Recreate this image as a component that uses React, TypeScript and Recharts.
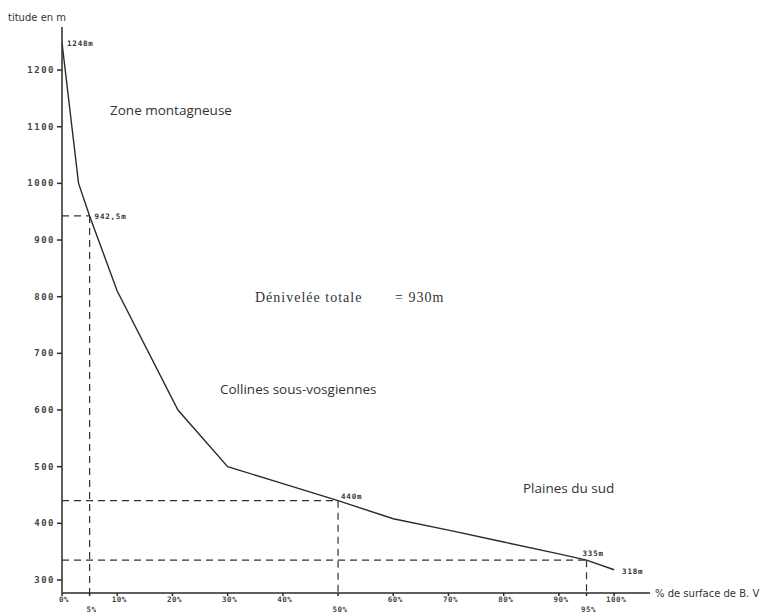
import React from "react";
import { LineChart, Line, XAxis, YAxis, ReferenceLine, LabelList } from "recharts";

// courbe hypsométrique du bassin versant
const surfacePct = [0, 3, 5, 10, 21, 30, 40, 50, 60, 70, 80, 90, 95, 100];
const altitude = [1248, 1000, 942.5, 810, 600, 500, 470, 440, 408, 388, 367, 346, 335, 318];
const pointLabels = ["1248m", "", "942,5m", "", "", "", "", "440m", "", "", "", "", "335m", "318m"];

const yTicks = [300, 400, 500, 600, 700, 800, 900, 1000, 1100, 1200];
const xTicks = [0, 5, 10, 20, 30, 40, 50, 60, 70, 80, 90, 95, 100];
const lowerRowTicks = [5, 50, 95];
const hiddenUpperTicks = [50];

// repères en pointillés : [surface %, altitude]
const markers = [
  [5, 942.5],
  [50, 440],
  [95, 335],
];

const data = surfacePct.map((s, i) => ({ s, alt: altitude[i], label: pointLabels[i] }));

const Y_MIN = 277;
const Y_MAX = 1276;
const ink = "#2a2a2a";
const tickFont = "'DejaVu Sans Mono', monospace";

const labelOffset: Record<string, [number, number]> = {
  "1248m": [5, 3],
  "942,5m": [5, 3],
  "440m": [3, -2],
  "335m": [-4, -4],
  "318m": [8, 4],
};

function XTick(props: any) {
  const { x, payload } = props;
  const v = payload.value;
  const low = lowerRowTicks.includes(v);
  if (!low && hiddenUpperTicks.includes(v)) return null;
  return (
    <text
      x={x + 2}
      y={low ? 612 : 602}
      textAnchor="middle"
      fontFamily={tickFont}
      fontSize={7.5}
      fontWeight="bold"
      fill="#444"
      letterSpacing={0.5}
    >
      {v}%
    </text>
  );
}

function YTick(props: any) {
  const { y, payload } = props;
  return (
    <text
      x={55}
      y={y + 3}
      textAnchor="end"
      fontFamily={tickFont}
      fontSize={9}
      fontWeight="bold"
      fill="#444"
      letterSpacing={1.5}
    >
      {payload.value}
    </text>
  );
}

function PointLabel(props: any) {
  const { x, y, value } = props;
  if (!value) return null;
  const [dx, dy] = labelOffset[value] || [4, 0];
  return (
    <text
      x={x + dx}
      y={y + dy}
      fontFamily={tickFont}
      fontSize={7.5}
      fontWeight="bold"
      fill="#333"
      letterSpacing={0.8}
    >
      {value}
    </text>
  );
}

export default function App() {
  return (
    <div style={{ position: "absolute", left: 0, top: 0, width: 772, height: 615, background: "#fff" }}>
      <LineChart
        width={772}
        height={615}
        data={data}
        margin={{ top: 27, right: 122, bottom: 0, left: 0 }}
      >
        <XAxis
          dataKey="s"
          type="number"
          domain={[0, 106.5]}
          ticks={xTicks}
          allowDataOverflow
          height={22}
          stroke={ink}
          strokeWidth={1.5}
          tickSize={3}
          tick={<XTick />}
          interval={0}
        />
        <YAxis
          type="number"
          domain={[Y_MIN, Y_MAX]}
          ticks={yTicks}
          allowDataOverflow
          width={62}
          stroke={ink}
          strokeWidth={1.5}
          tickSize={5}
          tick={<YTick />}
          interval={0}
        />
        {markers.map(([s, a]) => (
          <ReferenceLine
            key={"h" + s}
            segment={[
              { x: 0, y: a },
              { x: s, y: a },
            ]}
            stroke="#333"
            strokeWidth={1.2}
            strokeDasharray="7 5"
          />
        ))}
        {markers.map(([s, a]) => (
          <ReferenceLine
            key={"v" + s}
            segment={[
              { x: s, y: a },
              { x: s, y: Y_MIN },
            ]}
            stroke="#333"
            strokeWidth={1.2}
            strokeDasharray="7 5"
          />
        ))}
        <Line
          type="linear"
          dataKey="alt"
          stroke={ink}
          strokeWidth={1.4}
          dot={false}
          isAnimationActive={false}
        >
          <LabelList dataKey="label" content={<PointLabel />} />
        </Line>
      </LineChart>
      <svg
        width={772}
        height={615}
        style={{ position: "absolute", left: 0, top: 0, pointerEvents: "none" }}
      >
        <text x={8} y={21} fontFamily="'DejaVu Sans', sans-serif" fontSize={10} fill="#333">
          titude en m
        </text>
        <text x={655} y={597} fontFamily="'DejaVu Sans', sans-serif" fontSize={10} fill="#333">
          % de surface de B. V
        </text>
        <text x={110} y={115} fontFamily="'Open Sans', sans-serif" fontSize={13.5} fill="#333">
          Zone montagneuse
        </text>
        <text x={255} y={302} fontFamily="'Liberation Serif', serif" fontSize={14} fill="#333" letterSpacing={1}>
          Dénivelée totale
        </text>
        <text x={395} y={302} fontFamily="'Liberation Serif', serif" fontSize={14} fill="#333" letterSpacing={1}>
          = 930m
        </text>
        <text x={220} y={394} fontFamily="'Open Sans', sans-serif" fontSize={13.5} fill="#333">
          Collines sous-vosgiennes
        </text>
        <text x={523} y={493} fontFamily="'Open Sans', sans-serif" fontSize={13.5} fill="#333">
          Plaines du sud
        </text>
      </svg>
    </div>
  );
}
